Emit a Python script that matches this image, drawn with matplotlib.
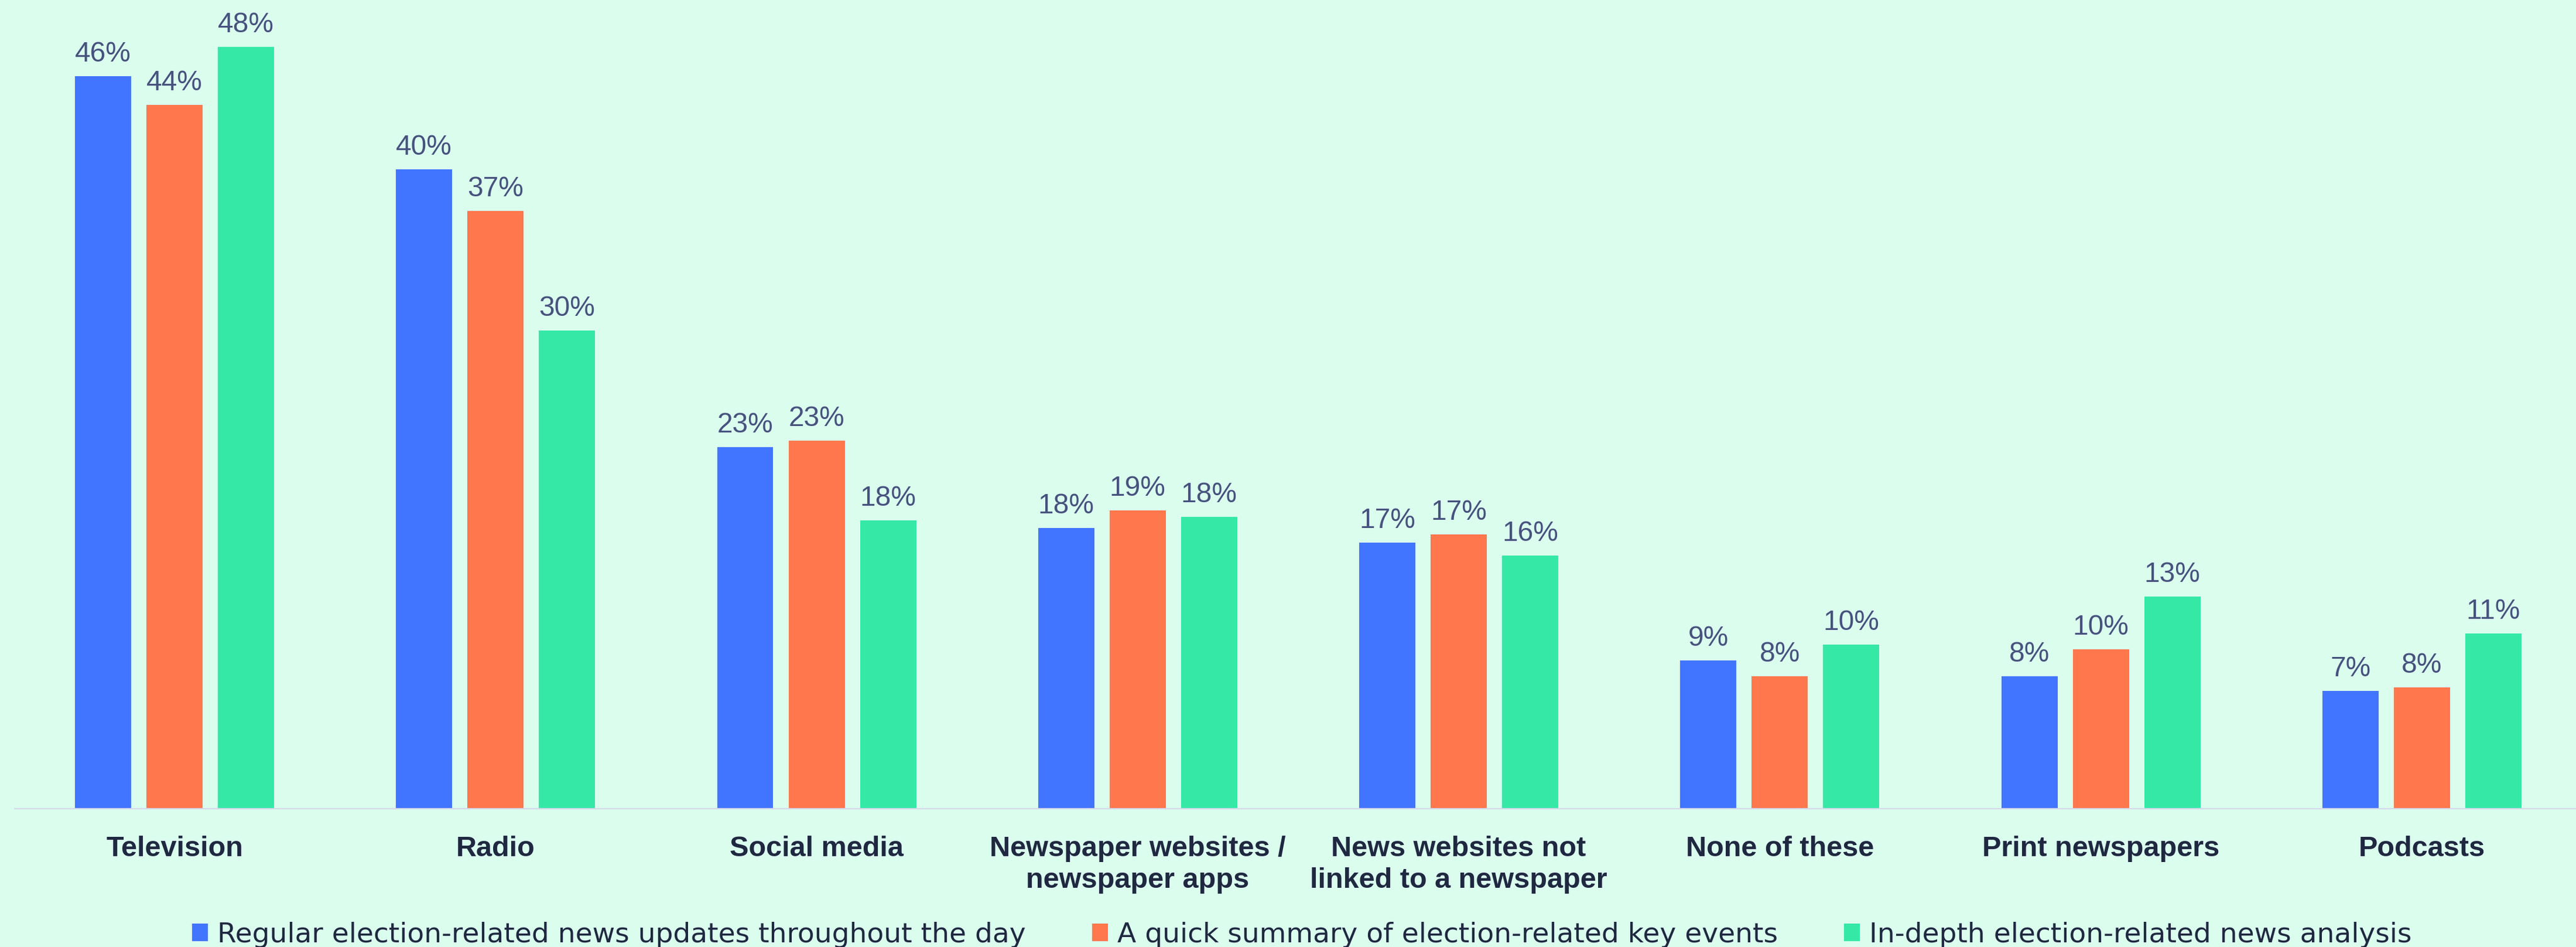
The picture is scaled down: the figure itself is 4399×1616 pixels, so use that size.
import numpy as np
import matplotlib
matplotlib.use("Agg")
from matplotlib import pyplot as plt
from matplotlib.patches import Patch

categories = ["Television", "Radio", "Social media", "Newspaper websites /\nnewspaper apps",
              "News websites not\nlinked to a newspaper", "None of these", "Print newspapers", "Podcasts"]
series_names = ["Regular election-related news updates throughout the day",
                "A quick summary of election-related key events",
                "In-depth election-related news analysis"]
regular = [45.96, 40.1, 22.7, 17.6, 16.7, 9.3, 8.3, 7.4]
summary = [44.15, 37.49, 23.1, 18.7, 17.2, 8.3, 10.0, 7.6]
indepth = [47.8, 30.0, 18.1, 18.3, 15.9, 10.3, 13.3, 11.0]

colors = ["#4275ff", "#ff774c", "#36e8a6"]
bg = "#dafdee"
value_col = "#47527e"
text_col = "#1f2840"

fig = plt.figure(figsize=(43.99, 16.16), dpi=100, facecolor=bg)
ax = fig.add_axes([25 / 4399, 236 / 1616, 1 - 25 / 4399, 1360 / 1616])
ax.set_facecolor(bg)

x = np.arange(len(categories))
width = 0.175
offset = 0.2226

for i, vals in enumerate([regular, summary, indepth]):
    pos = x + (i - 1) * offset
    ax.bar(pos, vals, width=width, color=colors[i], zorder=2)
    for p, v in zip(pos, vals):
        ax.annotate(f"{v:.0f}%", (p, v), xytext=(0, 18), textcoords="offset points",
                    ha="center", va="baseline", fontsize=34.5, color=value_col,
                    family="Liberation Sans")

ax.set_xlim(-0.498, 7.48)
ax.set_ylim(0, 50)
ax.set_yticks([])
ax.set_xticks(x)
ax.set_xticklabels(categories, fontsize=35, fontweight="bold", color=text_col,
                   family="Liberation Sans", linespacing=1.25)
ax.tick_params(axis="x", length=0, pad=33)
for s in ["top", "left", "right"]:
    ax.spines[s].set_visible(False)
ax.spines["bottom"].set_color("#d5d9ea")
ax.spines["bottom"].set_linewidth(1.6)

handles = [Patch(facecolor=c, edgecolor="none") for c in colors]
fig.legend(handles, series_names, loc="lower center", bbox_to_anchor=(0.5054, -0.001),
           ncol=3, frameon=False, prop={"family": "DejaVu Sans", "size": 33.9},
           handlelength=0.58, handleheight=0.6, handletextpad=0.34, columnspacing=2.4,
           borderpad=0, borderaxespad=0, labelcolor=text_col)

fig.savefig("out.png", dpi=100, facecolor=bg)
